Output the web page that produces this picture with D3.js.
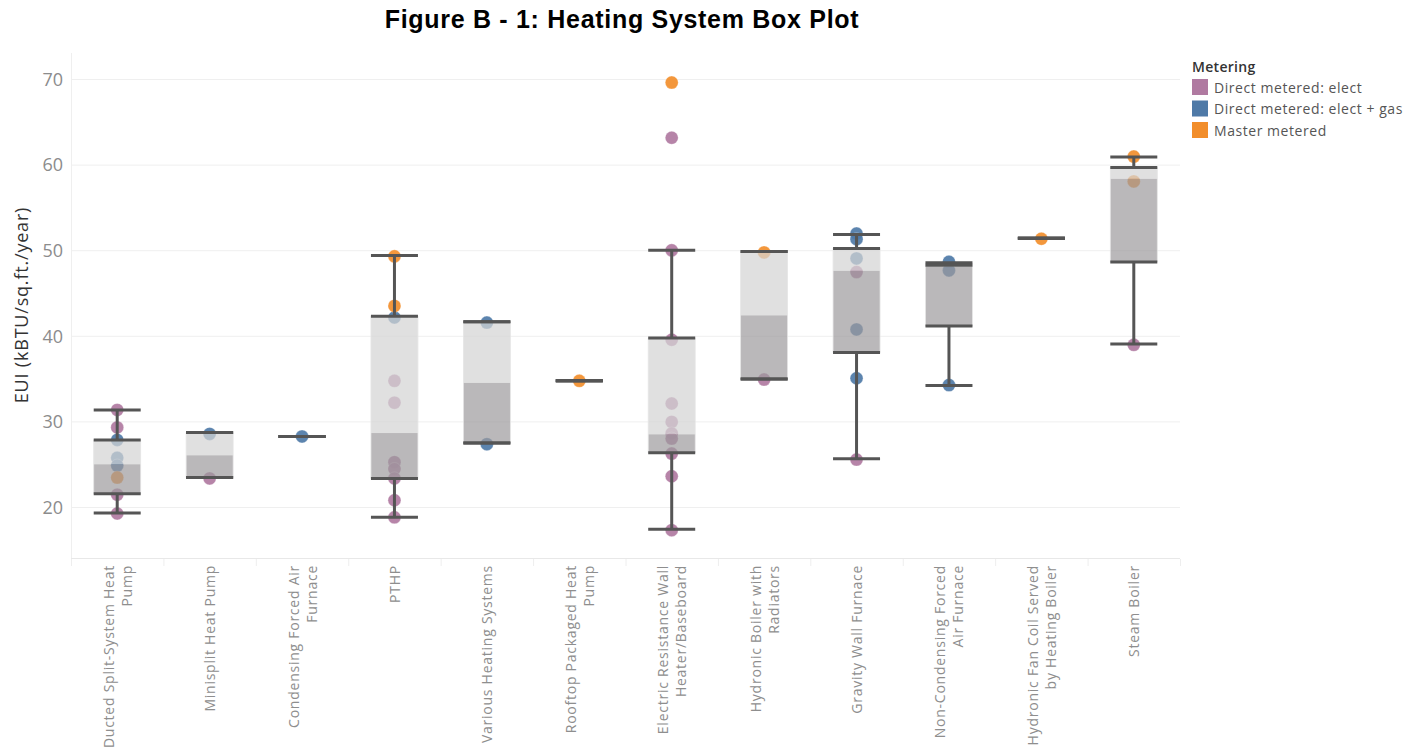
<!DOCTYPE html>
<html>
<head>
<meta charset="utf-8">
<script src="https://cdn.jsdelivr.net/npm/d3@7/dist/d3.min.js"></script>
<style>
  html, body { margin: 0; padding: 0; background: #ffffff; }
  svg { display: block; }
</style>
</head>
<body>
<svg id="chart" width="1417" height="752"></svg>
<script>
// Heating system categories and their wrapped tick labels
const categories = [
  "Ducted Split-System Heat Pump",
  "Minisplit Heat Pump",
  "Condensing Forced Air Furnace",
  "PTHP",
  "Various Heating Systems",
  "Rooftop Packaged Heat Pump",
  "Electric Resistance Wall Heater/Baseboard",
  "Hydronic Boiler with Radiators",
  "Gravity Wall Furnace",
  "Non-Condensing Forced Air Furnace",
  "Hydronic Fan Coil Served by Heating Boiler",
  "Steam Boiler"
];
const tickLabelLines = [
  ["Ducted Split-System Heat", "Pump"],
  ["Minisplit Heat Pump"],
  ["Condensing Forced Air", "Furnace"],
  ["PTHP"],
  ["Various Heating Systems"],
  ["Rooftop Packaged Heat", "Pump"],
  ["Electric Resistance Wall", "Heater/Baseboard"],
  ["Hydronic Boiler with", "Radiators"],
  ["Gravity Wall Furnace"],
  ["Non-Condensing Forced", "Air Furnace"],
  ["Hydronic Fan Coil Served", "by Heating Boiler"],
  ["Steam Boiler"]
];

// Metering types and colours
const meteringTypes = ["Direct metered: elect", "Direct metered: elect + gas", "Master metered"];
const meteringColors = ["#b07aa1", "#4e79a7", "#f28e2b"];

// Building EUI values (kBTU/sq.ft./year) per category, by metering type
const euiDirectElect = [
  [31.4, 29.35, 21.5, 19.3],
  [23.4],
  [],
  [34.8, 32.25, 25.3, 24.5, 23.4, 20.85, 18.85],
  [],
  [],
  [63.2, 50.05, 39.6, 32.15, 30.0, 28.65, 28.05, 26.3, 23.65, 17.35],
  [34.95],
  [47.5, 25.6],
  [],
  [],
  [39.0]
];
const euiDirectElectGas = [
  [27.9, 25.8, 24.9],
  [28.6],
  [28.3],
  [42.2],
  [41.6, 27.4],
  [],
  [],
  [],
  [52.0, 51.35, 49.1, 40.8, 35.1],
  [48.7, 47.7, 34.3],
  [],
  []
];
const euiMasterMetered = [
  [23.5],
  [],
  [],
  [49.35, 43.55],
  [],
  [34.8],
  [69.65],
  [49.8],
  [],
  [],
  [51.4],
  [61.0, 58.1]
];

// Box plot statistics per category
const whiskerHigh = [31.4, 28.75, 28.3, 49.45, 41.7, 34.8, 50.05, 49.9, 51.9, 48.6, 51.45, 60.96];
const upperQuartile = [27.9, 28.75, 28.3, 42.35, 41.7, 34.8, 39.8, 49.9, 50.25, 48.3, 51.45, 59.73];
const medianValue = [25.05, 26.1, 28.3, 28.7, 34.55, 34.8, 28.55, 42.45, 47.65, 48.1, 51.45, 58.4];
const lowerQuartile = [21.6, 23.5, 28.3, 23.4, 27.55, 34.8, 26.4, 35.0, 38.1, 41.2, 51.45, 48.69];
const whiskerLow = [19.35, 23.5, 28.3, 18.85, 27.55, 34.8, 17.45, 35.0, 25.7, 34.25, 51.45, 39.11];

const yTicks = [20, 30, 40, 50, 60, 70];

const svg = d3.select("#chart");
const W = 1417, H = 752;
const plot = { left: 71, right: 1180, top: 53, bottom: 558 };

svg.append("rect").attr("width", W).attr("height", H).attr("fill", "#ffffff");

const x = d3.scaleBand().domain(categories).range([plot.left, plot.right]).padding(0);
const y = d3.scaleLinear().domain([14.1, 73.1]).range([plot.bottom, plot.top]);

const uiFont = "'Open Sans', 'Noto Sans', sans-serif";

// Title
svg.append("text")
  .attr("x", 622).attr("y", 28)
  .attr("text-anchor", "middle")
  .attr("font-family", "'Liberation Sans', Arial, sans-serif")
  .attr("font-weight", "bold")
  .attr("font-size", 25)
  .attr("letter-spacing", 0.7)
  .attr("fill", "#000")
  .text("Figure B - 1: Heating System Box Plot");

// Horizontal gridlines
svg.append("g").selectAll("line").data(yTicks).join("line")
  .attr("x1", plot.left).attr("x2", plot.right)
  .attr("y1", d => y(d)).attr("y2", d => y(d))
  .attr("stroke", "#efefef").attr("stroke-width", 1);

// Left and bottom axis lines
svg.append("line")
  .attr("x1", plot.left + 0.5).attr("x2", plot.left + 0.5)
  .attr("y1", plot.top).attr("y2", plot.bottom)
  .attr("stroke", "#efefef");
svg.append("line")
  .attr("x1", plot.left).attr("x2", plot.right)
  .attr("y1", plot.bottom + 0.5).attr("y2", plot.bottom + 0.5)
  .attr("stroke", "#e8e8e8");

// Category separators below the axis
const bounds = categories.map(c => x(c)).concat([plot.right]);
svg.append("g").selectAll("line").data(bounds).join("line")
  .attr("x1", d => d + 0.5).attr("x2", d => d + 0.5)
  .attr("y1", plot.bottom + 1).attr("y2", plot.bottom + 8)
  .attr("stroke", "#eeeeee");

// Y axis
const yAxis = d3.axisLeft(y).tickValues(yTicks).tickSize(0).tickPadding(8);
const yg = svg.append("g").attr("transform", `translate(${plot.left},0)`).call(yAxis);
yg.select(".domain").remove();
yg.selectAll("text")
  .attr("font-family", uiFont)
  .attr("font-size", 18)
  .attr("fill", "#8c8c8c");

svg.append("text")
  .attr("transform", "translate(21,305) rotate(-90)")
  .attr("text-anchor", "middle")
  .attr("dominant-baseline", "central")
  .attr("font-family", uiFont)
  .attr("font-size", 18)
  .attr("letter-spacing", 0.8)
  .attr("fill", "#333")
  .text("EUI (kBTU/sq.ft./year)");

// X tick labels, rotated and wrapped
const lineGap = 18;
const xl = svg.append("g");
categories.forEach((c, i) => {
  const cx = x(c) + x.bandwidth() / 2;
  const lines = tickLabelLines[i];
  lines.forEach((ln, j) => {
    const off = (j - (lines.length - 1) / 2) * lineGap;
    xl.append("text")
      .attr("transform", `translate(${cx + off},${plot.bottom + 7}) rotate(-90)`)
      .attr("text-anchor", "end")
      .attr("dominant-baseline", "central")
      .attr("font-family", uiFont)
      .attr("font-size", 14)
      .attr("letter-spacing", 0.75)
      .attr("fill", "#8e8e8e")
      .text(ln);
  });
});

// Points
const seriesValues = [euiDirectElect, euiDirectElectGas, euiMasterMetered];
const points = [];
seriesValues.forEach((series, s) => {
  series.forEach((vals, i) => {
    vals.forEach(v => points.push({ cat: categories[i], value: v, s }));
  });
});
svg.append("g").selectAll("circle").data(points).join("circle")
  .attr("cx", d => x(d.cat) + x.bandwidth() / 2)
  .attr("cy", d => y(d.value))
  .attr("r", 6.5)
  .attr("fill", d => meteringColors[d.s])
  .attr("fill-opacity", 0.92)
  .attr("stroke", "#ffffff")
  .attr("stroke-opacity", 0.35)
  .attr("stroke-width", 0.8);

// Boxes
const boxW = 47;
const boxes = categories.map((c, i) => ({
  cat: c,
  cx: x(c) + x.bandwidth() / 2,
  hi: whiskerHigh[i], q3: upperQuartile[i], med: medianValue[i],
  q1: lowerQuartile[i], lo: whiskerLow[i]
}));
const bg = svg.append("g");
bg.selectAll("rect.upper").data(boxes).join("rect")
  .attr("class", "upper")
  .attr("x", d => d.cx - boxW / 2).attr("width", boxW)
  .attr("y", d => y(d.q3)).attr("height", d => y(d.med) - y(d.q3))
  .attr("fill", "#d4d4d4").attr("fill-opacity", 0.72);
bg.selectAll("rect.lower").data(boxes).join("rect")
  .attr("class", "lower")
  .attr("x", d => d.cx - boxW / 2).attr("width", boxW)
  .attr("y", d => y(d.med)).attr("height", d => y(d.q1) - y(d.med))
  .attr("fill", "#9c9a9c").attr("fill-opacity", 0.7);
bg.selectAll("rect.outline").data(boxes).join("rect")
  .attr("class", "outline")
  .attr("x", d => d.cx - boxW / 2).attr("width", boxW)
  .attr("y", d => y(d.q3)).attr("height", d => y(d.q1) - y(d.q3))
  .attr("fill", "none").attr("stroke", "#e6e6e6").attr("stroke-width", 0.8);

// Whiskers and caps
const lineColor = "#555555";
const wg = svg.append("g").attr("stroke", lineColor).attr("stroke-width", 3);
wg.selectAll("line.top").data(boxes).join("line")
  .attr("x1", d => d.cx).attr("x2", d => d.cx)
  .attr("y1", d => y(d.hi)).attr("y2", d => y(d.q3));
wg.selectAll("line.bottom").data(boxes).join("line")
  .attr("x1", d => d.cx).attr("x2", d => d.cx)
  .attr("y1", d => y(d.q1)).attr("y2", d => y(d.lo));
["hi", "q3", "q1", "lo"].forEach(k => {
  wg.selectAll(`line.cap-${k}`).data(boxes).join("line")
    .attr("class", `cap-${k}`)
    .attr("x1", d => d.cx - boxW / 2).attr("x2", d => d.cx + boxW / 2)
    .attr("y1", d => y(d[k])).attr("y2", d => y(d[k]));
});

// Legend
const lg = svg.append("g").attr("transform", "translate(1192,0)");
lg.append("text")
  .attr("x", 0).attr("y", 72)
  .attr("font-family", uiFont).attr("font-size", 14).attr("font-weight", 600)
  .attr("letter-spacing", 0.3)
  .attr("fill", "#333").text("Metering");
meteringTypes.forEach((m, i) => {
  const cy = 87 + i * 21.5;
  lg.append("rect").attr("x", 0).attr("y", cy - 8).attr("width", 16).attr("height", 16)
    .attr("fill", meteringColors[i]);
  lg.append("text").attr("x", 22).attr("y", cy)
    .attr("dominant-baseline", "central")
    .attr("font-family", uiFont).attr("font-size", 14)
    .attr("letter-spacing", 0.55)
    .attr("fill", "#555").text(m);
});
</script>
</body>
</html>
